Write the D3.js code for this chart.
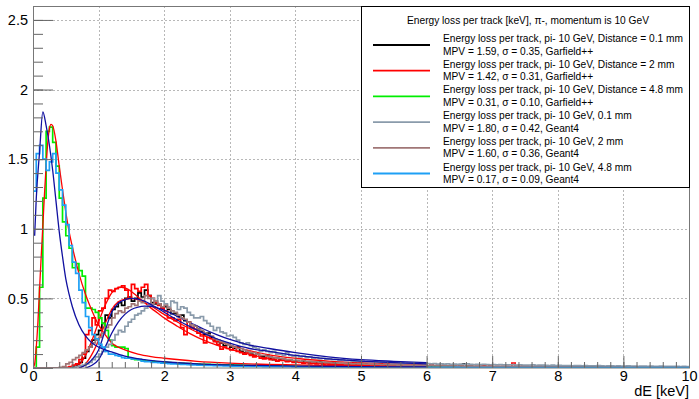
<!DOCTYPE html>
<html>
<head>
<meta charset="utf-8">
<script src="https://cdn.jsdelivr.net/npm/d3@7"></script>
<style>
  body { margin: 0; background: #fff; }
  svg { display: block; font-family: "Liberation Sans", Arial, Helvetica, sans-serif; }
</style>
</head>
<body>
<svg id="chart" width="699" height="399"></svg>
<script>
// histogram binning: 200 bins of 0.05 keV from 0 to 10
const binLow = 0;
const binWidth = 0.05;

// Garfield++ 0.1 mm (black)
const histGarf01 = [
  0,0,0,0,0,0,0,0,0,0,
  0,0.005,0.01,0.02,0.04,0.07,0.12,0.15,0.2,0.24,
  0.27,0.32,0.38,0.36,0.42,0.44,0.47,0.45,0.5,0.51,
  0.48,0.5,0.54,0.51,0.56,0.52,0.47,0.46,0.46,0.44,
  0.44,0.42,0.39,0.39,0.37,0.38,0.34,0.33,0.29,0.3,
  0.28,0.26,0.24,0.25,0.22,0.2,0.19,0.18,0.16,0.17,
  0.15,0.14,0.15,0.12,0.11,0.12,0.1,0.09,0.1,0.085,
  0.08,0.09,0.07,0.06,0.07,0.065,0.06,0.05,0.055,0.05,
  0.05,0.045,0.05,0.04,0.045,0.04,0.038,0.042,0.035,0.038,
  0.033,0.036,0.03,0.032,0.03,0.028,0.03,0.026,0.027,0.025,
  0.024,0.026,0.022,0.023,0.021,0.022,0.02,0.019,0.021,0.018,
  0.018,0.017,0.019,0.016,0.016,0.015,0.017,0.014,0.015,0.013,
  0.013,0.014,0.012,0.012,0.011,0.013,0.011,0.01,0.012,0.01,
  0.02,0.03,0.009,0.011,0.009,0.01,0.008,0.009,0.008,0.009,
  0.008,0.007,0.008,0.007,0.007,0.008,0.006,0.007,0.006,0.006,
  0.006,0.006,0.005,0.006,0.005,0.005,0.006,0.005,0.004,0.005,
  0.004,0.005,0.004,0.004,0.004,0.005,0.003,0.004,0.004,0.003,
  0.004,0.003,0.003,0.004,0.003,0.003,0.003,0.003,0.004,0.003,
  0.003,0.002,0.003,0.003,0.002,0.003,0.002,0.002,0.003,0.002,
  0.002,0.002,0.003,0.002,0.002,0.002,0.002,0.002,0.002,0.002
];

// Garfield++ 2 mm (red)
const histGarf2 = [
  0,0,0,0,0,0,0,0,0,0,
  0.005,0.01,0.02,0.03,0.06,0.1,0.24,0.27,0.36,0.31,
  0.41,0.43,0.5,0.56,0.55,0.57,0.58,0.59,0.56,0.5,
  0.6,0.57,0.55,0.58,0.6,0.52,0.5,0.47,0.45,0.43,
  0.41,0.36,0.36,0.34,0.35,0.29,0.24,0.33,0.29,0.28,
  0.25,0.23,0.18,0.22,0.21,0.19,0.17,0.135,0.15,0.14,
  0.13,0.15,0.12,0.11,0.1,0.11,0.09,0.08,0.1,0.07,
  0.065,0.08,0.06,0.07,0.05,0.055,0.06,0.045,0.05,0.04,
  0.045,0.04,0.035,0.04,0.032,0.035,0.03,0.033,0.028,0.03,
  0.026,0.028,0.025,0.024,0.026,0.022,0.023,0.02,0.022,0.019,
  0.02,0.018,0.019,0.017,0.018,0.016,0.017,0.015,0.016,0.014,
  0.015,0.013,0.014,0.012,0.013,0.012,0.011,0.012,0.01,0.011,
  0.01,0.03,0.009,0.01,0.009,0.008,0.01,0.008,0.009,0.007,
  0.008,0.007,0.008,0.007,0.006,0.007,0.006,0.015,0.006,0.02,
  0.005,0.006,0.005,0.004,0.005,0.004,0.036,0.004,0.004,0.005,
  0.004,0.003,0.004,0.003,0.003,0.004,0.003,0.003,0.003,0.002,
  0.003,0.002,0.002,0.003,0.002,0.002,0.002,0.002,0.002,0.002,
  0.002,0.002,0.001,0.002,0.002,0.001,0.002,0.001,0.001,0.002,
  0.001,0.001,0.002,0.001,0.001,0.001,0.001,0.001,0.001,0.001,
  0.001,0.001,0.001,0.001,0.001,0.001,0.001,0.001,0.001,0.001
];

// Garfield++ 4.8 mm (green)
const histGarf48 = [
  0,0.15,0.58,1.22,1.7,1.73,1.62,1.45,1.22,1.05,
  0.95,0.86,0.72,0.75,0.7,0.66,0.43,0.43,0.42,0.4,
  0.36,0.32,0.27,0.2,0.16,0.15,0.15,0.15,0.14,0.07,
  0.065,0.06,0.06,0.055,0.05,0.05,0.048,0.045,0.042,0.04,
  0.04,0.038,0.037,0.036,0.034,0.033,0.032,0.031,0.03,0.029,
  0.028,0.027,0.027,0.026,0.025,0.025,0.024,0.023,0.023,0.022,
  0.022,0.021,0.02,0.02,0.019,0.019,0.018,0.018,0.017,0.017,
  0.016,0.016,0.015,0.015,0.015,0.014,0.014,0.013,0.013,0.013,
  0.012,0.012,0.012,0.011,0.011,0.011,0.011,0.01,0.01,0.01,
  0.01,0.01,0.009,0.009,0.009,0.009,0.009,0.008,0.008,0.008,
  0.008,0.008,0.008,0.007,0.007,0.007,0.007,0.007,0.007,0.007,
  0.006,0.006,0.006,0.006,0.006,0.006,0.006,0.006,0.006,0.005,
  0.005,0.005,0.005,0.005,0.005,0.005,0.005,0.005,0.005,0.005,
  0.004,0.004,0.004,0.004,0.004,0.004,0.004,0.004,0.004,0.004,
  0.004,0.004,0.004,0.004,0.003,0.003,0.003,0.003,0.003,0.003,
  0.003,0.003,0.003,0.003,0.003,0.003,0.003,0.003,0.003,0.003,
  0.003,0.003,0.003,0.003,0.002,0.002,0.002,0.002,0.002,0.002,
  0.002,0.002,0.002,0.002,0.002,0.002,0.002,0.002,0.002,0.002,
  0.002,0.002,0.002,0.002,0.002,0.002,0.002,0.002,0.002,0.002,
  0.002,0.002,0.002,0.002,0.002,0.002,0.002,0.002,0.002,0.002
];

// Geant4 0.1 mm (grey-blue)
const histG4_01 = [
  0,0,0,0,0,0,0,0,0,0,
  0,0,0.005,0.01,0.015,0.02,0.03,0.04,0.06,0.08,
  0.1,0.12,0.15,0.17,0.2,0.24,0.27,0.26,0.3,0.33,
  0.35,0.38,0.39,0.41,0.43,0.45,0.5,0.48,0.52,0.48,
  0.46,0.44,0.48,0.47,0.42,0.44,0.43,0.4,0.38,0.36,
  0.36,0.37,0.34,0.32,0.3,0.27,0.29,0.26,0.25,0.23,
  0.235,0.22,0.2,0.18,0.17,0.18,0.16,0.15,0.14,0.12,
  0.13,0.12,0.11,0.12,0.1,0.1,0.09,0.11,0.09,0.085,
  0.09,0.08,0.085,0.075,0.08,0.07,0.075,0.068,0.07,0.063,
  0.065,0.06,0.062,0.055,0.058,0.052,0.055,0.05,0.05,0.047,
  0.048,0.045,0.046,0.043,0.044,0.04,0.042,0.039,0.04,0.037,
  0.038,0.036,0.037,0.034,0.035,0.033,0.034,0.031,0.032,0.03,
  0.032,0.03,0.031,0.028,0.03,0.028,0.029,0.027,0.028,0.026,
  0.028,0.027,0.03,0.026,0.025,0.027,0.024,0.026,0.025,0.023,
  0.025,0.023,0.024,0.022,0.023,0.022,0.024,0.021,0.022,0.02,
  0.021,0.02,0.022,0.019,0.02,0.021,0.019,0.018,0.02,0.018,
  0.019,0.017,0.018,0.018,0.016,0.017,0.018,0.016,0.017,0.015,
  0.016,0.015,0.017,0.015,0.014,0.016,0.015,0.014,0.015,0.013,
  0.014,0.015,0.013,0.014,0.012,0.013,0.014,0.012,0.013,0.012,
  0.012,0.013,0.011,0.012,0.011,0.012,0.011,0.01,0.011,0.01
];

// Geant4 2 mm (brown)
const histG4_2 = [
  0,0,0,0,0,0,0,0,0.005,0.01,
  0.03,0.04,0.06,0.075,0.09,0.11,0.13,0.15,0.18,0.2,
  0.22,0.25,0.29,0.31,0.36,0.39,0.41,0.4,0.43,0.44,
  0.46,0.45,0.48,0.47,0.52,0.5,0.46,0.48,0.46,0.44,
  0.45,0.43,0.41,0.4,0.38,0.36,0.35,0.33,0.31,0.3,
  0.28,0.27,0.25,0.24,0.23,0.21,0.2,0.19,0.18,0.17,
  0.16,0.15,0.14,0.14,0.13,0.12,0.11,0.11,0.1,0.09,
  0.09,0.085,0.08,0.075,0.07,0.07,0.065,0.06,0.06,0.055,
  0.055,0.05,0.052,0.048,0.047,0.044,0.045,0.041,0.042,0.039,
  0.038,0.036,0.037,0.034,0.035,0.032,0.033,0.03,0.031,0.029,
  0.029,0.027,0.028,0.026,0.026,0.025,0.024,0.025,0.023,0.022,
  0.023,0.021,0.022,0.02,0.021,0.019,0.02,0.018,0.019,0.018,
  0.018,0.017,0.018,0.016,0.017,0.015,0.016,0.015,0.016,0.014,
  0.015,0.014,0.015,0.013,0.014,0.013,0.013,0.012,0.013,0.012,
  0.012,0.011,0.012,0.011,0.011,0.01,0.011,0.01,0.011,0.01,
  0.01,0.009,0.01,0.009,0.01,0.009,0.009,0.008,0.009,0.008,
  0.008,0.008,0.009,0.007,0.008,0.007,0.008,0.007,0.007,0.007,
  0.007,0.006,0.007,0.006,0.007,0.006,0.006,0.006,0.006,0.005,
  0.006,0.005,0.005,0.006,0.005,0.005,0.005,0.004,0.005,0.004,
  0.005,0.004,0.004,0.004,0.004,0.004,0.004,0.003,0.004,0.003
];

// Geant4 4.8 mm (azure)
const histG4_48 = [
  1.27,1.54,1.6,1.5,1.42,1.48,1.54,1.4,1.28,1.17,
  1.03,0.88,0.76,0.68,0.56,0.47,0.37,0.29,0.24,0.21,
  0.17,0.15,0.12,0.1,0.1,0.09,0.085,0.075,0.07,0.07,
  0.065,0.065,0.06,0.05,0.045,0.045,0.04,0.04,0.038,0.035,
  0.034,0.032,0.03,0.029,0.028,0.026,0.025,0.024,0.023,0.022,
  0.021,0.02,0.019,0.018,0.018,0.017,0.016,0.016,0.015,0.015,
  0.014,0.014,0.013,0.013,0.012,0.012,0.012,0.011,0.011,0.011,
  0.01,0.01,0.01,0.01,0.009,0.009,0.009,0.009,0.009,0.008,
  0.008,0.008,0.008,0.008,0.008,0.007,0.007,0.007,0.007,0.007,
  0.007,0.007,0.006,0.006,0.006,0.006,0.006,0.006,0.006,0.006,
  0.006,0.005,0.005,0.005,0.005,0.005,0.005,0.005,0.005,0.005,
  0.005,0.005,0.005,0.004,0.004,0.004,0.004,0.004,0.004,0.004,
  0.004,0.004,0.004,0.004,0.004,0.004,0.004,0.004,0.004,0.004,
  0.003,0.003,0.003,0.003,0.003,0.003,0.003,0.003,0.003,0.003,
  0.003,0.003,0.003,0.003,0.003,0.003,0.003,0.003,0.003,0.003,
  0.003,0.003,0.003,0.003,0.003,0.003,0.003,0.003,0.003,0.003,
  0.002,0.002,0.002,0.002,0.002,0.002,0.002,0.002,0.002,0.002,
  0.002,0.002,0.002,0.002,0.002,0.002,0.002,0.002,0.002,0.002,
  0.002,0.002,0.002,0.002,0.002,0.002,0.002,0.002,0.002,0.002,
  0.002,0.002,0.002,0.002,0.002,0.002,0.002,0.002,0.002,0.002
];

// Landau fit curves: [dE, value]
const fitGarf01 = [[0.7,0],[0.8,0.03],[0.9,0.1],[1.0,0.2],[1.1,0.32],[1.2,0.42],[1.3,0.475],[1.4,0.495],[1.5,0.5],[1.6,0.49],[1.7,0.47],[1.8,0.445],[1.9,0.415],[2.0,0.385],[2.2,0.33],[2.4,0.28],[2.6,0.235],[2.8,0.195],[3.0,0.165],[3.3,0.125],[3.6,0.095],[4.0,0.07],[4.5,0.05],[5.0,0.038],[5.5,0.03],[6.0,0.024]];
const fitGarf2 = [[0.6,0],[0.7,0.02],[0.8,0.09],[0.9,0.2],[1.0,0.33],[1.1,0.45],[1.2,0.54],[1.3,0.577],[1.35,0.58],[1.4,0.575],[1.5,0.55],[1.6,0.51],[1.7,0.47],[1.8,0.43],[1.9,0.395],[2.0,0.36],[2.2,0.3],[2.4,0.245],[2.6,0.2],[2.8,0.165],[3.0,0.135],[3.3,0.1],[3.6,0.065],[4.0,0.045],[4.5,0.032],[5.0,0.024],[5.5,0.018],[6.0,0.014]];
const fitGarf48 = [[0.0,0],[0.025,0.03],[0.05,0.15],[0.075,0.33],[0.1,0.57],[0.125,0.8],[0.15,1.02],[0.175,1.25],[0.2,1.45],[0.225,1.62],[0.25,1.72],[0.275,1.75],[0.3,1.74],[0.35,1.63],[0.4,1.45],[0.45,1.28],[0.5,1.12],[0.55,0.98],[0.6,0.87],[0.7,0.68],[0.8,0.53],[0.9,0.41],[1.0,0.31],[1.1,0.24],[1.2,0.18],[1.3,0.15],[1.4,0.13],[1.6,0.1],[1.8,0.082],[2.0,0.07],[2.5,0.048],[3.0,0.035],[4.0,0.022],[5.0,0.015],[6.0,0.011]];
const fitG4_01 = [[0.8,0],[0.9,0.02],[1.0,0.06],[1.1,0.15],[1.2,0.25],[1.3,0.33],[1.4,0.385],[1.5,0.42],[1.6,0.437],[1.7,0.444],[1.8,0.442],[1.9,0.43],[2.0,0.415],[2.2,0.37],[2.4,0.325],[2.6,0.28],[2.8,0.24],[3.0,0.205],[3.3,0.165],[3.6,0.14],[4.0,0.11],[4.5,0.08],[5.0,0.06],[5.5,0.048],[6.0,0.038]];
const fitG4_2 = [[0.7,0],[0.8,0.02],[0.9,0.06],[1.0,0.13],[1.1,0.27],[1.2,0.4],[1.3,0.465],[1.4,0.49],[1.5,0.5],[1.6,0.495],[1.7,0.48],[1.8,0.455],[1.9,0.43],[2.0,0.4],[2.2,0.345],[2.4,0.295],[2.6,0.25],[2.8,0.21],[3.0,0.178],[3.3,0.14],[3.6,0.12],[4.0,0.09],[4.5,0.066],[5.0,0.05],[5.5,0.038],[6.0,0.03]];
const fitG4_48 = [[0.025,0.95],[0.05,1.22],[0.1,1.55],[0.15,1.84],[0.2,1.74],[0.25,1.6],[0.3,1.42],[0.35,1.2],[0.4,0.98],[0.45,0.8],[0.5,0.64],[0.55,0.53],[0.6,0.44],[0.7,0.31],[0.8,0.23],[0.9,0.18],[1.0,0.15],[1.2,0.115],[1.4,0.085],[1.7,0.06],[2.0,0.045],[2.5,0.03],[3.0,0.022],[4.0,0.014],[5.0,0.01],[6.0,0.008]];

const legendTitle = 'Energy loss per track [keV], \u03c0-, momentum is 10 GeV';
const legendLines = [
  ['Energy loss per track, pi- 10 GeV, Distance = 0.1 mm', 'MPV = 1.59, \u03c3 = 0.35, Garfield++'],
  ['Energy loss per track, pi- 10 GeV, Distance = 2 mm', 'MPV = 1.42, \u03c3 = 0.31, Garfield++'],
  ['Energy loss per track, pi- 10 GeV, Distance = 4.8 mm', 'MPV = 0.31, \u03c3 = 0.10, Garfield++'],
  ['Energy loss per track, pi- 10 GeV, 0.1 mm', 'MPV = 1.80, \u03c3 = 0.42, Geant4'],
  ['Energy loss per track, pi- 10 GeV, 2 mm', 'MPV = 1.60, \u03c3 = 0.36, Geant4'],
  ['Energy loss per track, pi- 10 GeV, 4.8 mm', 'MPV = 0.17, \u03c3 = 0.09, Geant4']
];
const histColors = ['#000000', '#ff0000', '#00ee00', '#8a9bab', '#a07676', '#1ea0f5'];
const fitColors = ['#ff0000', '#ff0000', '#ff0000', '#1010a0', '#1010a0', '#1010a0'];
const xTicks = [0, 1, 2, 3, 4, 5, 6, 7, 8, 9, 10];
const yTicks = [0, 0.5, 1, 1.5, 2, 2.5];

const series = [
  { hist: histGarf01, fit: fitGarf01 },
  { hist: histGarf2, fit: fitGarf2 },
  { hist: histGarf48, fit: fitGarf48 },
  { hist: histG4_01, fit: fitG4_01 },
  { hist: histG4_2, fit: fitG4_2 },
  { hist: histG4_48, fit: fitG4_48 }
];

const frame = { left: 33, right: 689, top: 6, bottom: 368 };
const svg = d3.select('#chart');

const x = d3.scaleLinear().domain([0, 10]).range([frame.left, frame.right]);
const y = d3.scaleLinear().domain([0, 2.6]).range([frame.bottom, frame.top]);

svg.append('defs').append('clipPath').attr('id', 'plot-clip')
  .append('rect')
  .attr('x', frame.left).attr('y', frame.top)
  .attr('width', frame.right - frame.left).attr('height', frame.bottom - frame.top);

// dashed grid
const grid = svg.append('g').attr('stroke', '#b8b8b8').attr('stroke-dasharray', '2,2').attr('stroke-width', 1);
grid.selectAll('.gx').data(xTicks.slice(1, -1)).join('line')
  .attr('x1', d => Math.round(x(d)) + 0.5).attr('x2', d => Math.round(x(d)) + 0.5)
  .attr('y1', frame.top).attr('y2', frame.bottom);
grid.selectAll('.gy').data(yTicks.slice(1)).join('line')
  .attr('y1', d => Math.round(y(d)) + 0.5).attr('y2', d => Math.round(y(d)) + 0.5)
  .attr('x1', frame.left).attr('x2', frame.right);

const plot = svg.append('g').attr('clip-path', 'url(#plot-clip)');

const stepLine = d3.line().x(d => x(d[0])).y(d => y(d[1])).curve(d3.curveStepAfter);
const fitLine = d3.line().x(d => x(d[0])).y(d => y(d[1])).curve(d3.curveMonotoneX);

series.forEach((s, i) => {
  const pts = [[binLow, 0]];
  s.hist.forEach((v, b) => pts.push([binLow + b * binWidth, v]));
  pts.push([binLow + s.hist.length * binWidth, s.hist[s.hist.length - 1]]);
  plot.append('path')
    .attr('d', stepLine(pts))
    .attr('fill', 'none')
    .attr('stroke', histColors[i])
    .attr('stroke-width', 1.7);
  plot.append('path')
    .attr('d', fitLine(s.fit))
    .attr('fill', 'none')
    .attr('stroke', fitColors[i])
    .attr('stroke-width', 1.3);
});

// axes, ROOT style: ticks inside the frame
const xAxis = svg.append('g')
  .attr('transform', `translate(0,${frame.bottom})`)
  .call(d3.axisBottom(x).tickValues(xTicks).tickSize(-12).tickPadding(3).tickFormat(d3.format('d')));
svg.append('g')
  .attr('transform', `translate(0,${frame.bottom})`)
  .call(d3.axisBottom(x).tickValues(d3.range(0, 10.01, 0.2)).tickSize(-6).tickFormat(''));

const yAxis = svg.append('g')
  .attr('transform', `translate(${frame.left},0)`)
  .call(d3.axisLeft(y).tickValues(yTicks).tickSize(-20).tickPadding(5).tickFormat(d => d));
svg.append('g')
  .attr('transform', `translate(${frame.left},0)`)
  .call(d3.axisLeft(y).tickValues(d3.range(0, 2.61, 0.1)).tickSize(-10).tickFormat(''));

svg.selectAll('.domain').remove();
svg.selectAll('.tick line').attr('stroke', '#666');
svg.selectAll('.tick text').attr('font-size', 14.5).attr('fill', '#000')
  .attr('font-family', '"Liberation Sans", Arial, sans-serif');

svg.append('rect')
  .attr('x', frame.left + 0.5).attr('y', frame.top + 0.5)
  .attr('width', frame.right - frame.left).attr('height', frame.bottom - frame.top - 0.5)
  .attr('fill', 'none').attr('stroke', '#777');

svg.append('text')
  .attr('x', frame.right).attr('y', 396)
  .attr('text-anchor', 'end').attr('font-size', 14.5)
  .text('dE [keV]');

// legend
const lg = { x0: 361, x1: 689, y0: 6, y1: 187 };
const legend = svg.append('g');
legend.append('rect')
  .attr('x', lg.x0 + 0.5).attr('y', lg.y0 + 0.5)
  .attr('width', lg.x1 - lg.x0).attr('height', lg.y1 - lg.y0)
  .attr('fill', '#fff').attr('stroke', '#000').attr('stroke-width', 1);
legend.append('text')
  .attr('x', 528).attr('y', 20)
  .attr('text-anchor', 'middle').attr('dominant-baseline', 'central')
  .attr('font-size', 10.2)
  .text(legendTitle);

const entry = legend.selectAll('g.entry').data(legendLines).join('g')
  .attr('transform', (d, i) => `translate(0,${45 + i * 25.7})`);
entry.append('line')
  .attr('x1', 373).attr('x2', 430).attr('y1', 0).attr('y2', 0)
  .attr('stroke', (d, i) => histColors[i]).attr('stroke-width', 1.8);
entry.append('text')
  .attr('x', 443).attr('y', -6.5).attr('dominant-baseline', 'central')
  .attr('font-size', 10.2).text(d => d[0]);
entry.append('text')
  .attr('x', 443).attr('y', 6.2).attr('dominant-baseline', 'central')
  .attr('font-size', 10.2).text(d => d[1]);
</script>
</body>
</html>
